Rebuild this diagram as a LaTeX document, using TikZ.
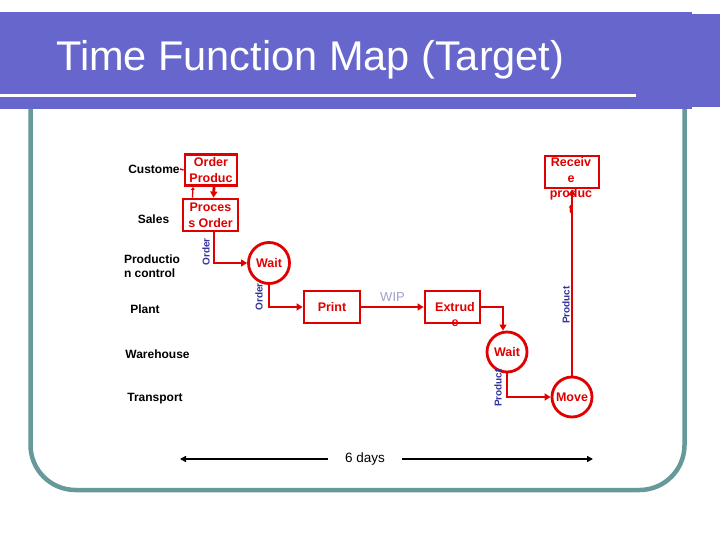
\documentclass[tikz,border=0pt]{standalone}
\usepackage{fontspec}
\setmainfont{Liberation Sans}
\usetikzlibrary{arrows.meta}

\definecolor{banner}{HTML}{6666CC}
\definecolor{frame}{HTML}{669999}
\definecolor{flow}{HTML}{E00000}
\definecolor{tag}{HTML}{333399}
\definecolor{wip}{HTML}{A0A0CC}

\begin{document}
\begin{tikzpicture}[x=1pt, y=-1pt,
    stepbox/.style={draw=flow, line width=2.8pt, inner sep=0pt, text=flow,
        align=center, font=\bfseries\fontsize{12.5}{16}\selectfont},
    steptext/.style={inner sep=0pt, text=flow, align=center,
        font=\bfseries\fontsize{12.5}{15.5}\selectfont},
    waitnode/.style={circle, draw=flow, line width=2.8pt, minimum size=41pt,
        inner sep=0pt, text=flow, font=\bfseries\fontsize{12.5}{15}\selectfont},
    lane/.style={align=left, inner sep=0pt, font=\bfseries\fontsize{12}{14}\selectfont},
    flowline/.style={draw=flow, line width=2.8pt, -{Triangle[length=6pt,width=7pt]}},
    tagtext/.style={text=tag, rotate=90, inner sep=0pt,
        font=\bfseries\fontsize{10}{12}\selectfont}]
    \useasboundingbox (0,0) rectangle (720,540);
    \fill[white] (0,0) rectangle (720,540);

    % frame and banner
    \draw[frame, line width=4.5pt, rounded corners=45pt]
        (30.5,105) -- (30.5,490) -- (684.5,490) -- (684.5,105);
    \fill[banner] (0,12) rectangle (692,109);
    \fill[banner] (636,14) rectangle (720,107);
    \fill[white] (0,94) rectangle (636,97.5);
    \node[text=white, anchor=base west, inner sep=0pt,
        font=\fontsize{41.5}{42}\selectfont] (title) at (56,71)
        {Time Function Map (Target)};

    % lanes
    \foreach \lname/\lx/\ly/\ltext in {cust/154/169/Custome, sales/153.5/219/Sales,
        prod/152/266/{Productio\\n control}, plant/145/309/Plant,
        ware/157.5/354/Warehouse, trans/155/399/Transport} {
        \node[lane] (lane-\lname) at (\lx,\ly) {\ltext};
    }

    % steps
    \node[stepbox, minimum width=52pt, minimum height=31pt] (ordprod) at (211,170) {Order\\Produc};
    \node[stepbox, minimum width=55pt, minimum height=32pt] (proc) at (210.5,215) {Proces\\s Order};
    \node[waitnode] (wait1) at (269,263) {Wait};
    \node[stepbox, minimum width=56pt, minimum height=32pt] (print) at (332,307) {Print};
    \node[stepbox, minimum width=55pt, minimum height=32pt] (extr) at (452.5,307) {};
    \node[steptext, anchor=north] (extr-t) at (455,302) {Extrud\\e};
    \node[waitnode, minimum size=40pt] (wait2) at (507,352) {Wait};
    \node[waitnode, minimum size=40pt] (move) at (572,397) {Move};
    \node[stepbox, minimum width=54pt, minimum height=32pt] (recv) at (572,172) {};
    \node[steptext, anchor=north] (recv-t) at (571,157.5) {Receiv\\e\\produc\\t};

    % flow
    \draw[draw=flow, line width=1.5pt] (lane-cust.east) -- (ordprod.west);
    \draw[flowline] ([xshift=3pt]ordprod.south) -- ([xshift=3pt]proc.north);
    \draw[draw=flow, line width=1.2pt, -{Triangle[length=3pt,width=3.5pt]}]
        ([xshift=-18pt]proc.north) -- ([xshift=-18pt]ordprod.south);
    \draw[flowline] ([xshift=3.5pt]proc.south) |- (wait1.west);
    \draw[flowline] (wait1.south) |- (print.west);
    \draw[flowline] (print.east) -- node[above=1pt, text=wip,
        font=\fontsize{13}{13}\selectfont] (wip) {WIP} (extr.west);
    \draw[flowline] (extr.east) -| ([xshift=-4pt]wait2.north);
    \draw[flowline] (wait2.south) |- (move.west);
    \draw[flowline] (move.north) -- (recv.south);

    % tags
    \node[tagtext] (tag-ord1) at (206,252) {Order};
    \node[tagtext] (tag-ord2) at (259,297) {Order};
    \node[tagtext] (tag-prd1) at (498,388) {Product};
    \node[tagtext] (tag-prd2) at (566,305) {Product};

    % lead time
    \coordinate (span-l) at (180,459);
    \coordinate (span-r) at (593,459);
    \node[inner xsep=17pt, font=\fontsize{13.5}{14}\selectfont] (days) at (365,459) {6 days};
    \draw[line width=2pt, -{Triangle[length=6pt,width=6pt]}] (days.west) -- (span-l);
    \draw[line width=2pt, -{Triangle[length=6pt,width=6pt]}] (days.east) -- (span-r);
\end{tikzpicture}
\end{document}
